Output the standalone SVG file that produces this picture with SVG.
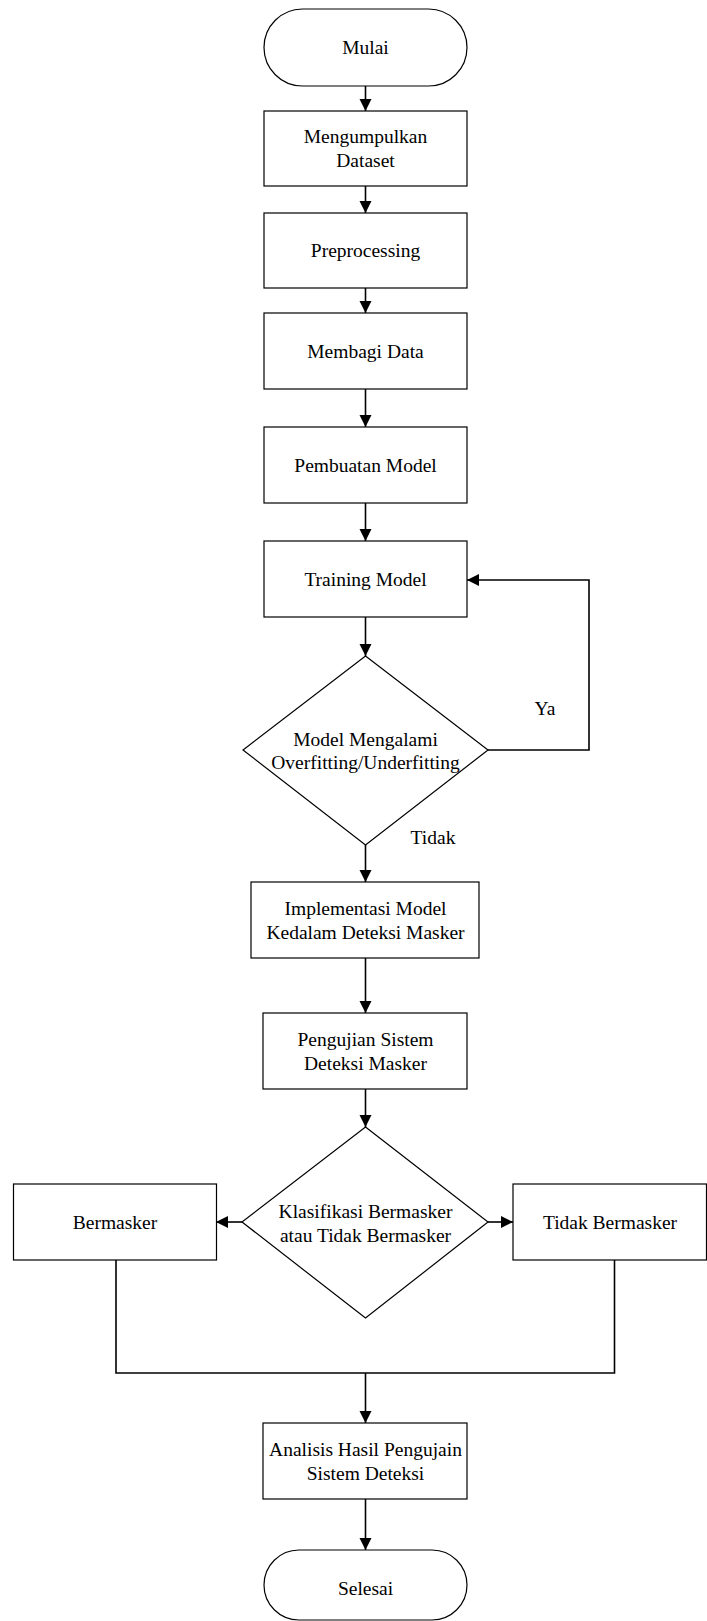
<svg xmlns="http://www.w3.org/2000/svg" width="707" height="1621" viewBox="0 0 707 1621">
<style>
.s{fill:#fff;stroke:#000;stroke-width:1.2}
.t{font-family:"Liberation Serif","Times New Roman",serif;font-size:19.5px;text-anchor:middle;dominant-baseline:central;fill:#000}
.c{fill:none;stroke:#000;stroke-width:1.6}
</style>
<defs>
<marker id="a" markerUnits="userSpaceOnUse" markerWidth="12" markerHeight="14" viewBox="0 0 12 14" refX="12" refY="7" orient="auto">
<path d="M0,1 L12,7 L0,13 Z" fill="#000"/>
</marker>
</defs>
<rect width="707" height="1621" fill="#fff"/>
<g id="connectors">
<path class="c" d="M365.5,86 V111" marker-end="url(#a)"/>
<path class="c" d="M365.5,186 V213" marker-end="url(#a)"/>
<path class="c" d="M365.5,288 V313" marker-end="url(#a)"/>
<path class="c" d="M365.5,389 V427" marker-end="url(#a)"/>
<path class="c" d="M365.5,503 V541" marker-end="url(#a)"/>
<path class="c" d="M365.5,617 V656" marker-end="url(#a)"/>
<path class="c" d="M488,750 H589 V580 H467" marker-end="url(#a)"/>
<path class="c" d="M365.5,845 V882" marker-end="url(#a)"/>
<path class="c" d="M365.5,958 V1013" marker-end="url(#a)"/>
<path class="c" d="M365.5,1089 V1127" marker-end="url(#a)"/>
<path class="c" d="M242,1222 H216" marker-end="url(#a)"/>
<path class="c" d="M488,1222 H513" marker-end="url(#a)"/>
<path class="c" d="M116,1260 V1373 H614.5 V1260"/>
<path class="c" d="M365.5,1373 V1423" marker-end="url(#a)"/>
<path class="c" d="M365.5,1499 V1550" marker-end="url(#a)"/>
<text class="t" x="545" y="708">Ya</text>
<text class="t" x="433" y="837">Tidak</text>
</g>
<g id="mulai">
<rect class="s" x="264" y="9" width="203" height="77" rx="38.5" ry="38.5"/>
<text class="t" x="365.5" y="47.5">Mulai</text>
</g>
<g id="mengumpulkan">
<rect class="s" x="264" y="111" width="203" height="75"/>
<text class="t" x="365.5" y="136.5">Mengumpulkan</text>
<text class="t" x="365.5" y="160.5">Dataset</text>
</g>
<g id="preprocessing">
<rect class="s" x="264" y="213" width="203" height="75"/>
<text class="t" x="365.5" y="250.5">Preprocessing</text>
</g>
<g id="membagi">
<rect class="s" x="264" y="313" width="203" height="76"/>
<text class="t" x="365.5" y="351">Membagi Data</text>
</g>
<g id="pembuatan">
<rect class="s" x="264" y="427" width="203" height="76"/>
<text class="t" x="365.5" y="465">Pembuatan Model</text>
</g>
<g id="training">
<rect class="s" x="264" y="541" width="203" height="76"/>
<text class="t" x="365.5" y="579">Training Model</text>
</g>
<g id="decision1">
<polygon class="s" points="365.5,656 488,750 365.5,845 243,750"/>
<text class="t" x="365.5" y="739">Model Mengalami</text>
<text class="t" x="365.5" y="762.5">Overfitting/Underfitting</text>
</g>
<g id="implementasi">
<rect class="s" x="251" y="882" width="228" height="76"/>
<text class="t" x="365.5" y="908">Implementasi Model</text>
<text class="t" x="365.5" y="932">Kedalam Deteksi Masker</text>
</g>
<g id="pengujian">
<rect class="s" x="263" y="1013" width="204" height="76"/>
<text class="t" x="365.5" y="1039">Pengujian Sistem</text>
<text class="t" x="365.5" y="1063">Deteksi Masker</text>
</g>
<g id="decision2">
<polygon class="s" points="365.5,1127 488,1222 365.5,1318 242,1222"/>
<text class="t" x="365.5" y="1211">Klasifikasi Bermasker</text>
<text class="t" x="365.5" y="1235">atau Tidak Bermasker</text>
</g>
<g id="bermasker">
<rect class="s" x="13.5" y="1184" width="203" height="76"/>
<text class="t" x="115" y="1222">Bermasker</text>
</g>
<g id="tidakbermasker">
<rect class="s" x="513" y="1184" width="193.5" height="76"/>
<text class="t" x="610" y="1222">Tidak Bermasker</text>
</g>
<g id="analisis">
<rect class="s" x="263" y="1423" width="204" height="76"/>
<text class="t" x="365.5" y="1449">Analisis Hasil Pengujain</text>
<text class="t" x="365.5" y="1473">Sistem Deteksi</text>
</g>
<g id="selesai">
<rect class="s" x="264" y="1550" width="203" height="70" rx="35" ry="35"/>
<text class="t" x="365.5" y="1588">Selesai</text>
</g>
</svg>
